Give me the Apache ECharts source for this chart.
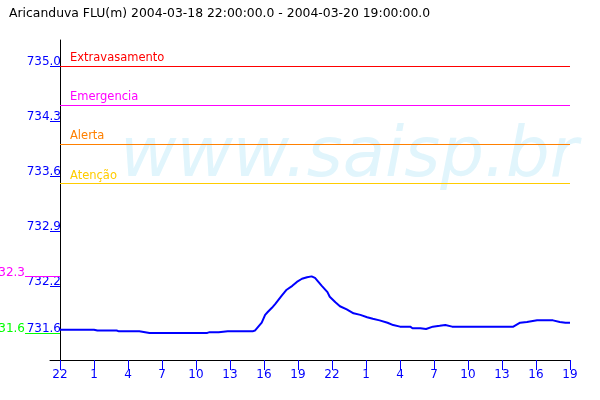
<!DOCTYPE html>
<html><head><meta charset="utf-8">
<script src="https://cdn.jsdelivr.net/npm/echarts@6/dist/echarts.min.js"></script>
<style>html,body{margin:0;padding:0;background:#fff}#c{width:600px;height:400px}</style>
</head><body><div id="c"></div>
<script>
const chartTitle = 'Aricanduva FLU(m) 2004-03-18 22:00:00.0 - 2004-03-20 19:00:00.0';
// hours since 2004-03-18 22:00
const hours = [0,1,2,3,3.3,4,5,5.2,6,7,7.9,9,10,11,12,13,13.2,14,14.8,16,17,17.2,17.5,17.8,18.1,18.35,18.7,19.0,19.6,20.0,20.5,20.9,21.35,21.8,22.2,22.5,22.8,23.1,23.6,23.8,24.3,24.7,25.3,25.9,26.5,27.1,27.6,28.2,28.9,29.4,30.0,30.9,31.1,31.8,32.3,32.9,33.5,34.0,34.6,36,38,40.0,40.6,41.2,42.1,43.5,44.1,44.6,45];
const levels = [731.64,731.64,731.64,731.64,731.63,731.63,731.63,731.62,731.62,731.62,731.60,731.60,731.60,731.60,731.60,731.60,731.61,731.61,731.62,731.62,731.62,731.63,731.68,731.73,731.83,731.87,731.92,731.97,732.08,732.15,732.20,732.25,732.29,732.31,732.32,732.30,732.25,732.20,732.12,732.06,731.99,731.94,731.90,731.85,731.83,731.80,731.78,731.76,731.73,731.70,731.68,731.68,731.66,731.66,731.65,731.68,731.69,731.70,731.68,731.68,731.68,731.68,731.73,731.74,731.76,731.76,731.74,731.73,731.73];
const xTickHours = [0,3,6,9,12,15,18,21,24,27,30,33,36,39,42,45];
const xTickLabels = ['22','1','4','7','10','13','16','19','22','1','4','7','10','13','16','19'];
const yTickValues = [735.0,734.3,733.6,732.9,732.2,731.6];
const thresholdNames = ['Extravasamento','Emergencia','Alerta','Atenção'];
const thresholdValues = [735.0,734.5,734.0,733.5];
const thresholdColors = ['#ff0000','#ff00ff','#ff8000','#ffcc00'];

const Y_MIN = 731.255, Y_MAX = 735.331, X_MIN = -0.882, X_MAX = 45;
const FONT = 'DejaVu Sans';
const maxV = Math.max(...levels), minV = Math.min(...levels);
const chart = echarts.init(document.getElementById('c'), null, {renderer:'canvas'});

const markData = thresholdValues.map((v,i)=>[
  {xAxis:0, yAxis:v, lineStyle:{color:thresholdColors[i], width:1, type:'solid'},
   label:{show:true, formatter:thresholdNames[i], position:'insideStartTop', distance:[10,2], color:thresholdColors[i], fontFamily:FONT, fontSize:11.5}},
  {xAxis:45, yAxis:v}
]);
[[maxV,'#ff00ff'],[minV,'#00ff00']].forEach(([v,c])=>{
  markData.push([
    {x:25, yAxis:v, lineStyle:{color:c, width:1, type:'solid'},
     label:{show:true, formatter:v.toFixed(1), position:'start', distance:0, color:c, fontFamily:FONT, fontSize:12, verticalAlign:'bottom', lineHeight:8}},
    {x:60, yAxis:v}
  ]);
});

chart.setOption({
  animation:false,
  title:{text:chartTitle, left:4, top:3, textStyle:{fontFamily:FONT, fontSize:12.4, fontWeight:'normal', color:'#000'}},
  graphic:[{type:'text', left:120, top:124, z:0, silent:true,
    style:{text:'www.saisp.br', fill:'#e1f5fc', font:'italic 69px "DejaVu Sans"'}}],
  grid:{left:50, right:30, top:40, bottom:40},
  xAxis:{type:'value', min:X_MIN, max:X_MAX,
    axisLine:{lineStyle:{color:'#000'}}, splitLine:{show:false},
    axisTick:{show:true, length:10, lineStyle:{color:'#0000ff'}, customValues:xTickHours},
    axisLabel:{color:'#0000ff', fontFamily:FONT, fontSize:12, margin:9, customValues:xTickHours,
      formatter:v=>xTickLabels[xTickHours.indexOf(v)]}},
  yAxis:{type:'value', min:Y_MIN, max:Y_MAX,
    axisLine:{show:true, onZero:true, lineStyle:{color:'#000'}}, splitLine:{show:false},
    axisTick:{show:true, length:10, lineStyle:{color:'#0000ff'}, customValues:yTickValues},
    axisLabel:{color:'#0000ff', fontFamily:FONT, fontSize:12, margin:-11, customValues:yTickValues,
      verticalAlign:'bottom', lineHeight:8, formatter:v=>v.toFixed(1)}},
  series:[{type:'line', data:hours.map((h,i)=>[h,levels[i]]), showSymbol:false, symbol:'none',
    clip:false, z:5, lineStyle:{color:'#0000ff', width:2},
    markLine:{silent:true, symbol:'none', animation:false, data:markData}}]
});
</script></body></html>
